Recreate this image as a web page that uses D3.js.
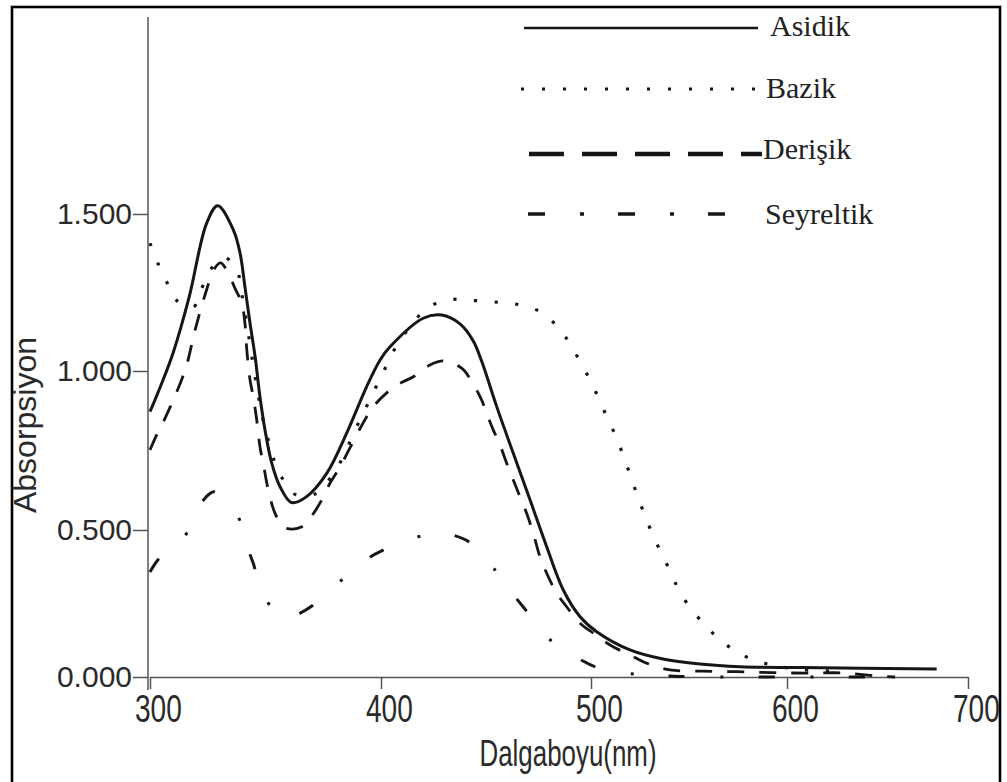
<!DOCTYPE html>
<html>
<head>
<meta charset="utf-8">
<script src="https://cdn.jsdelivr.net/npm/d3@7"></script>
<style>
  html, body { margin: 0; padding: 0; background: #fff; }
  svg { display: block; }
</style>
</head>
<body>
<svg id="chart" width="1007" height="782"></svg>
<script>
// Axis ticks
const wavelengthTicks = [300, 400, 500, 600, 700];
const absorbanceTicks = [0, 0.5, 1.0, 1.5];

// Asidik (acidic) spectrum
const asidikWavelength = [300, 305, 310.1, 317, 324.5, 329.3, 336.1, 339, 341.1, 343.3, 345.5, 347.6, 349.8, 352.7, 356.3, 361.3, 367.8, 376.5, 385.1, 393.8, 399.6, 404.3, 420.1, 428.9, 437.6, 444, 448, 455.1, 463, 471, 478.9, 486.8, 494.8, 502.9, 519.9, 536.7, 555.6, 576, 607.2, 682.7];
const asidikAbsorbance = [0.872, 0.960, 1.060, 1.237, 1.470, 1.526, 1.449, 1.375, 1.268, 1.152, 1.046, 0.919, 0.814, 0.710, 0.636, 0.586, 0.605, 0.678, 0.804, 0.951, 1.035, 1.077, 1.168, 1.178, 1.150, 1.095, 1.030, 0.888, 0.741, 0.594, 0.443, 0.296, 0.205, 0.154, 0.092, 0.061, 0.044, 0.035, 0.032, 0.027];

// Bazik (basic) spectrum
const bazikWavelength = [300, 303.3, 307.2, 311.3, 318.7, 322.4, 326.4, 332.5, 338, 339.7, 342, 345.5, 348.8, 351, 353.4, 357.3, 362.8, 371.4, 377.6, 382.3, 386.3, 390.2, 394.2, 398.1, 402.4, 406.7, 412.3, 418.9, 427, 436.9, 446.9, 457.1, 466.6, 476.3, 483.8, 489.7, 494.6, 499.4, 503.7, 508.3, 512.8, 516.5, 520.3, 523.7, 527.6, 531.6, 536.2, 540.9, 545.2, 551.5, 558.6, 565.9, 574.9, 584.6, 594.8, 606.2, 625];
const bazikAbsorbance = [1.407, 1.345, 1.284, 1.226, 1.203, 1.263, 1.325, 1.361, 1.313, 1.247, 1.146, 0.982, 0.851, 0.788, 0.725, 0.662, 0.612, 0.613, 0.659, 0.712, 0.773, 0.836, 0.895, 0.954, 1.014, 1.072, 1.128, 1.181, 1.218, 1.229, 1.223, 1.218, 1.210, 1.187, 1.143, 1.090, 1.032, 0.974, 0.917, 0.853, 0.793, 0.733, 0.668, 0.607, 0.544, 0.482, 0.417, 0.353, 0.290, 0.228, 0.174, 0.126, 0.084, 0.054, 0.038, 0.026, 0.020];

// Derişik (concentrated) spectrum
const derisikWavelength = [300, 302.9, 306.5, 315.2, 319.5, 323.8, 328.1, 330.6, 334.6, 336.8, 339.7, 341.1, 341.9, 343.3, 344.7, 346.2, 347.6, 349, 351.2, 354.1, 357.7, 361.7, 365.7, 369.3, 374.3, 377.9, 382.3, 391, 396.7, 404.3, 409, 415.4, 423.3, 429.6, 438.4, 442.3, 447.9, 450.3, 453.5, 456.7, 459.9, 463, 466.2, 469.4, 472.5, 475.7, 478.9, 483.7, 488.4, 494.8, 501.2, 509.7, 521.6, 528.4, 540.3, 556.5, 574.3, 592.2, 611, 630.2, 650.3, 659.7];
const derisikAbsorbance = [0.752, 0.799, 0.851, 1.003, 1.130, 1.242, 1.328, 1.344, 1.300, 1.263, 1.216, 1.152, 1.067, 0.972, 0.919, 0.846, 0.762, 0.710, 0.626, 0.553, 0.510, 0.503, 0.510, 0.537, 0.594, 0.647, 0.699, 0.820, 0.888, 0.940, 0.961, 0.982, 1.019, 1.032, 1.009, 0.977, 0.909, 0.867, 0.814, 0.767, 0.709, 0.657, 0.604, 0.552, 0.489, 0.409, 0.353, 0.285, 0.239, 0.183, 0.149, 0.109, 0.069, 0.047, 0.024, 0.020, 0.018, 0.015, 0.013, 0.014, 0.003, 0.000];

// Seyreltik (dilute) spectrum
const seyreltikWavelength = [300, 304, 314.2, 321.6, 326, 328, 337.2, 342.3, 344.7, 349.8, 360.6, 363.5, 369.6, 381.8, 394.5, 400.3, 416.7, 428, 434.1, 441.8, 453.6, 464.4, 469.6, 480.6, 495.3, 502.9, 521.9, 545, 600, 660];
const seyreltikAbsorbance = [0.357, 0.404, 0.469, 0.579, 0.615, 0.620, 0.556, 0.438, 0.387, 0.264, 0.201, 0.211, 0.239, 0.322, 0.404, 0.429, 0.475, 0.490, 0.483, 0.460, 0.370, 0.268, 0.222, 0.126, 0.058, 0.033, 0.010, 0.002, 0.000, 0.000];

// Legend entries
const legendLabels = ["Asidik", "Bazik", "Derişik", "Seyreltik"];

const svg = d3.select("#chart");
const ink = "#161616";
const axisGrey = "#555";
const labelInk = "#2a2a2a";
const sans = "'Liberation Sans', Arial, sans-serif";

// Outer frame
svg.append("rect")
  .attr("x", 12).attr("y", 7)
  .attr("width", 988).attr("height", 790)
  .attr("fill", "#fff")
  .attr("stroke", "#000")
  .attr("stroke-width", 2.6);

// Scales (the printed axis spacing is uneven, so both are piecewise linear)
const x = d3.scaleLinear().domain(wavelengthTicks).range([150, 381, 591, 787, 968]);
const y = d3.scaleLinear().domain(absorbanceTicks).range([677, 530, 371, 214]);

// Vertical axis line runs above the top tick and a little below the baseline
svg.append("line")
  .attr("x1", 148).attr("x2", 148).attr("y1", 17).attr("y2", 690)
  .attr("stroke", axisGrey).attr("stroke-width", 1.5);

const xAxis = svg.append("g")
  .attr("transform", `translate(0,${y(0)})`)
  .call(d3.axisBottom(x).tickValues(wavelengthTicks).tickSize(12).tickSizeOuter(0).tickPadding(5));
xAxis.select(".domain").attr("stroke", axisGrey).attr("stroke-width", 1.5);
xAxis.selectAll(".tick line").attr("stroke", axisGrey).attr("stroke-width", 1.5);
xAxis.selectAll(".tick text")
  .attr("fill", labelInk)
  .attr("font-family", sans)
  .attr("font-size", 39)
  .attr("transform", "scale(0.72,1)")
  .attr("x", 11);

const yAxis = svg.append("g")
  .attr("transform", "translate(148,0)")
  .call(d3.axisLeft(y).tickValues(absorbanceTicks).tickFormat(d3.format(".3f")).tickSize(15).tickSizeOuter(0).tickPadding(1));
yAxis.select(".domain").remove();
yAxis.selectAll(".tick line").attr("stroke", axisGrey).attr("stroke-width", 1.5);
yAxis.selectAll(".tick text")
  .attr("fill", labelInk)
  .attr("font-family", sans)
  .attr("font-size", 30);

// Axis titles
svg.append("text")
  .attr("transform", "translate(568,766) scale(0.7,1)")
  .attr("text-anchor", "middle")
  .attr("font-family", sans)
  .attr("font-size", 37)
  .attr("fill", labelInk)
  .text("Dalgaboyu(nm)");

svg.append("text")
  .attr("transform", "translate(36,425) rotate(-90)")
  .attr("text-anchor", "middle")
  .attr("font-family", sans)
  .attr("font-size", 32)
  .attr("fill", labelInk)
  .text("Absorpsiyon");

// Spectra
const line = d3.line()
  .x(d => x(d[0]))
  .y(d => y(d[1]))
  .curve(d3.curveCatmullRom.alpha(0.5));

const series = [
  { wl: asidikWavelength, ab: asidikAbsorbance, width: 3, dash: null },
  { wl: bazikWavelength, ab: bazikAbsorbance, width: 3.2, dash: "3.2,17.5" },
  { wl: derisikWavelength, ab: derisikAbsorbance, width: 2.8, dash: "17,15" },
  { wl: seyreltikWavelength, ab: seyreltikAbsorbance, width: 3, dash: "16,36,3,35" }
];

series.forEach(s => {
  svg.append("path")
    .datum(d3.zip(s.wl, s.ab))
    .attr("d", line)
    .attr("fill", "none")
    .attr("stroke", ink)
    .attr("stroke-width", s.width)
    .attr("stroke-dasharray", s.dash);
});

// Legend
const legendRows = [
  { x1: 524, x2: 758, y: 28, width: 2.6, dash: null, tx: 770, ty: 36 },
  { x1: 521, x2: 757, y: 89, width: 3, dash: "3,18", tx: 766, ty: 98 },
  { x1: 529, x2: 762, y: 154, width: 4.5, dash: "35,18", tx: 763, ty: 159 },
  { x1: 528, x2: 727, y: 214, width: 3.3, dash: "17,35,4,34", tx: 765, ty: 224 }
];

legendRows.forEach((r, i) => {
  svg.append("line")
    .attr("x1", r.x1).attr("x2", r.x2)
    .attr("y1", r.y).attr("y2", r.y)
    .attr("stroke", ink)
    .attr("stroke-width", r.width)
    .attr("stroke-dasharray", r.dash);
  svg.append("text")
    .attr("x", r.tx).attr("y", r.ty)
    .attr("font-family", "'Liberation Serif', 'Times New Roman', serif")
    .attr("font-size", 30)
    .attr("fill", "#222")
    .text(legendLabels[i]);
});
</script>
</body>
</html>
